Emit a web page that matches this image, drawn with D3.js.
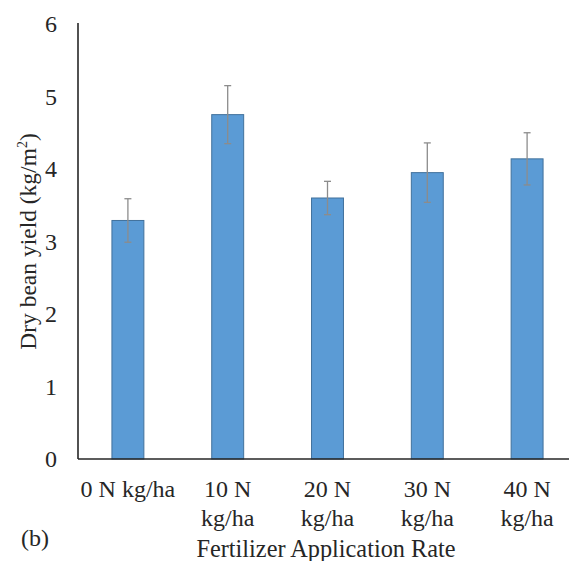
<!DOCTYPE html>
<html>
<head>
<meta charset="utf-8">
<script src="https://cdn.jsdelivr.net/npm/d3@7"></script>
<style>
  html, body { margin: 0; padding: 0; background: #fff; }
  svg { display: block; }
  svg text { font-family: "Liberation Serif", "Times New Roman", "DejaVu Serif", serif; fill: #262626; }
</style>
</head>
<body>
<svg id="chart" width="569" height="561"></svg>
<script>
// Dry bean yield by nitrogen fertilizer rate
const categories = [["0 N kg/ha"], ["10 N", "kg/ha"], ["20 N", "kg/ha"], ["30 N", "kg/ha"], ["40 N", "kg/ha"]];
const yieldMeans = [3.29, 4.75, 3.60, 3.95, 4.14];
const yieldErrors = [0.30, 0.40, 0.23, 0.41, 0.36];
const yTicks = [0, 1, 2, 3, 4, 5, 6];

const svg = d3.select("#chart");
const plotLeft = 78, plotRight = 577, plotTop = 24, plotBottom = 459;

const x = d3.scaleBand()
  .domain(d3.range(categories.length))
  .range([plotLeft, plotRight])
  .paddingInner(0.68)
  .paddingOuter(0.34);

const y = d3.scaleLinear().domain([0, 6]).range([plotBottom, plotTop]);

// y tick labels (no tick marks)
const yAxis = d3.axisLeft(y).tickValues(yTicks).tickFormat(d3.format("d")).tickSize(0).tickPadding(21);
const gy = svg.append("g").attr("transform", `translate(${plotLeft},0)`).call(yAxis);
gy.attr("font-family", null).attr("font-size", 24);
gy.select(".domain").remove();
gy.selectAll("text").attr("fill", "#262626");

// bars
svg.append("g").selectAll("rect")
  .data(yieldMeans)
  .join("rect")
  .attr("x", (d, i) => x(i))
  .attr("width", x.bandwidth())
  .attr("y", d => y(d))
  .attr("height", d => y(0) - y(d))
  .attr("fill", "#5B9BD5")
  .attr("stroke", "#41719C")
  .attr("stroke-width", 1);

// error bars
const eb = svg.append("g").attr("stroke", "#8c8c8c").attr("stroke-width", 1.3);
yieldMeans.forEach((m, i) => {
  const cx = x(i) + x.bandwidth() / 2;
  const hi = y(m + yieldErrors[i]), lo = y(m - yieldErrors[i]);
  eb.append("line").attr("x1", cx).attr("x2", cx).attr("y1", hi).attr("y2", lo);
  eb.append("line").attr("x1", cx - 3.5).attr("x2", cx + 3.5).attr("y1", hi).attr("y2", hi);
  eb.append("line").attr("x1", cx - 3.5).attr("x2", cx + 3.5).attr("y1", lo).attr("y2", lo);
});

// axis lines
svg.append("line").attr("x1", plotLeft).attr("x2", plotLeft).attr("y1", plotTop - 1).attr("y2", plotBottom)
  .attr("stroke", "#262626").attr("stroke-width", 1.6);
svg.append("line").attr("x1", plotLeft).attr("x2", 569).attr("y1", plotBottom).attr("y2", plotBottom)
  .attr("stroke", "#262626").attr("stroke-width", 1.6);

// category labels
const xAxis = d3.axisBottom(x).tickSize(0).tickFormat(() => "");
const gx = svg.append("g").attr("transform", `translate(0,${plotBottom})`).call(xAxis);
gx.attr("font-family", null).attr("font-size", 24);
gx.select(".domain").remove();
gx.selectAll(".tick").each(function(d) {
  const t = d3.select(this).append("text")
    .attr("text-anchor", "middle");
  categories[d].forEach((line, k) => {
    t.append("tspan").attr("x", 0).attr("y", 38 + k * 28.5).text(line);
  });
});

// axis titles
svg.append("text")
  .attr("x", 326).attr("y", 557)
  .attr("text-anchor", "middle")
  .attr("font-size", 24.3)
  .text("Fertilizer Application Rate");

const yt = svg.append("text")
  .attr("transform", "translate(36,241.5) rotate(-90)")
  .attr("text-anchor", "middle")
  .attr("font-size", 23.5);
yt.append("tspan").text("Dry bean yield (kg/m");
yt.append("tspan").attr("font-size", 14).attr("dy", -9).text("2");
yt.append("tspan").attr("dy", 9).text(")");

// panel tag
svg.append("text")
  .attr("x", 21).attr("y", 546)
  .attr("font-size", 24)
  .text("(b)");
</script>
</body>
</html>
